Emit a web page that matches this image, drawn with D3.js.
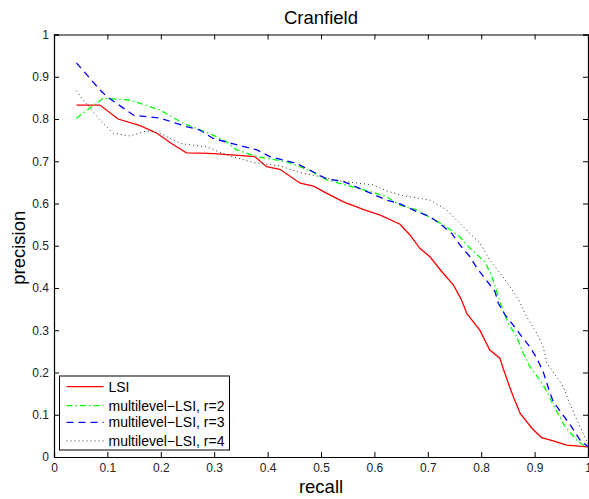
<!DOCTYPE html>
<html>
<head>
<meta charset="utf-8">
<script src="https://cdn.jsdelivr.net/npm/d3@7"></script>
<style>
  body { margin: 0; background: #fff; }
  svg { display: block; font-family: "Liberation Sans", Arial, sans-serif; }
</style>
</head>
<body>
<div class="canvas"></div>
<script>
// series data: [recall, precision]
const lsi = [
  [0.042, 0.833], [0.086, 0.833], [0.12, 0.80], [0.16, 0.785], [0.192, 0.767],
  [0.22, 0.742], [0.248, 0.720], [0.273, 0.719], [0.30, 0.718], [0.376, 0.711],
  [0.398, 0.687], [0.423, 0.681], [0.461, 0.648], [0.486, 0.641], [0.511, 0.624],
  [0.542, 0.604], [0.579, 0.586], [0.598, 0.578], [0.61, 0.573], [0.648, 0.551],
  [0.667, 0.525], [0.685, 0.494], [0.704, 0.474], [0.726, 0.439], [0.748, 0.407],
  [0.763, 0.372], [0.773, 0.340], [0.798, 0.299], [0.816, 0.253], [0.835, 0.234],
  [0.841, 0.210], [0.851, 0.174], [0.860, 0.143], [0.873, 0.103], [0.895, 0.068],
  [0.913, 0.046], [0.935, 0.038], [0.960, 0.028], [1.0, 0.024]
];
const lsiR2 = [
  [0.042, 0.802], [0.092, 0.849], [0.142, 0.845], [0.199, 0.821], [0.242, 0.79],
  [0.298, 0.762], [0.323, 0.746], [0.342, 0.727], [0.38, 0.711], [0.436, 0.699],
  [0.479, 0.678], [0.511, 0.656], [0.554, 0.641], [0.598, 0.626], [0.623, 0.616],
  [0.648, 0.596], [0.679, 0.585], [0.735, 0.545], [0.760, 0.521], [0.782, 0.49],
  [0.807, 0.462], [0.82, 0.427], [0.838, 0.356], [0.851, 0.316], [0.866, 0.285],
  [0.879, 0.245], [0.891, 0.214], [0.91, 0.182], [0.923, 0.155], [0.935, 0.123],
  [0.957, 0.072], [0.979, 0.04], [0.991, 0.028], [1.0, 0.024]
];
const lsiR3 = [
  [0.042, 0.933], [0.086, 0.869], [0.099, 0.853], [0.149, 0.809], [0.199, 0.802],
  [0.248, 0.782], [0.273, 0.774], [0.298, 0.754], [0.348, 0.737], [0.38, 0.727],
  [0.404, 0.711], [0.454, 0.695], [0.479, 0.679], [0.511, 0.658], [0.542, 0.652],
  [0.586, 0.628], [0.623, 0.608], [0.648, 0.599], [0.679, 0.581], [0.704, 0.569],
  [0.726, 0.549], [0.745, 0.529], [0.760, 0.502], [0.779, 0.474], [0.792, 0.447],
  [0.807, 0.423], [0.826, 0.391], [0.832, 0.364], [0.845, 0.336], [0.860, 0.312],
  [0.876, 0.285], [0.891, 0.261], [0.904, 0.234], [0.916, 0.202], [0.929, 0.151],
  [0.935, 0.131], [0.951, 0.103], [0.969, 0.072], [0.985, 0.04], [1.0, 0.024]
];
const lsiR4 = [
  [0.042, 0.867], [0.052, 0.849], [0.086, 0.798], [0.111, 0.766], [0.142, 0.760],
  [0.174, 0.772], [0.199, 0.766], [0.236, 0.742], [0.286, 0.734], [0.323, 0.715],
  [0.373, 0.697], [0.423, 0.689], [0.461, 0.673], [0.492, 0.665], [0.542, 0.652],
  [0.598, 0.644], [0.623, 0.630], [0.648, 0.62], [0.704, 0.608], [0.735, 0.585],
  [0.760, 0.553], [0.779, 0.529], [0.798, 0.506], [0.816, 0.466], [0.838, 0.431],
  [0.854, 0.403], [0.87, 0.372], [0.885, 0.332], [0.904, 0.293], [0.916, 0.261],
  [0.923, 0.222], [0.941, 0.190], [0.954, 0.166], [0.963, 0.135], [0.979, 0.088],
  [0.988, 0.064], [1.0, 0.03]
];

const seriesNames = ['LSI', 'multilevel\u2212LSI, r=2', 'multilevel\u2212LSI, r=3', 'multilevel\u2212LSI, r=4'];
const xTicks = [0, 0.1, 0.2, 0.3, 0.4, 0.5, 0.6, 0.7, 0.8, 0.9, 1];
const yTicks = [0, 0.1, 0.2, 0.3, 0.4, 0.5, 0.6, 0.7, 0.8, 0.9, 1];

const styles = [
  { color: '#ff0000', dash: null, width: 1.3 },
  { color: '#00ff00', dash: '6,3,1.5,3', width: 1.3 },
  { color: '#0000ff', dash: '7,5', width: 1.3 },
  { color: '#333333', dash: '1,3', width: 1 }
];

const svg = d3.select('.canvas')
    .append('svg')
    .attr('width', 589)
    .attr('height', 499);

const margin = { top: 34.5, right: 1, bottom: 42, left: 54 };
const graphWidth = 589 - margin.left - margin.right;
const graphHeight = 499 - margin.top - margin.bottom;

const graph = svg.append('g')
    .attr('transform', `translate(${margin.left}, ${margin.top})`);

const x = d3.scaleLinear().domain([0, 1]).range([0, graphWidth]);
const y = d3.scaleLinear().domain([0, 1]).range([graphHeight, 0]);

const fmt = d => d === 0 ? '0' : d === 1 ? '1' : d3.format('.1f')(d);

// axes with inward ticks
const xAxis = d3.axisBottom(x).tickValues(xTicks).tickSize(-5).tickPadding(6).tickFormat(fmt);
const yAxis = d3.axisLeft(y).tickValues(yTicks).tickSize(-5).tickPadding(5).tickFormat(fmt);
const xTop = d3.axisTop(x).tickValues(xTicks).tickSize(-5).tickFormat('');
const yRight = d3.axisRight(y).tickValues(yTicks).tickSize(-5).tickFormat('');

const xAxisGroup = graph.append('g').attr('transform', `translate(0, ${graphHeight})`).call(xAxis);
const yAxisGroup = graph.append('g').call(yAxis);
graph.append('g').call(xTop);
graph.append('g').attr('transform', `translate(${graphWidth}, 0)`).call(yRight);

graph.selectAll('.domain').attr('stroke', '#000').attr('stroke-width', 1.2);
graph.selectAll('.tick line').attr('stroke', '#000');
xAxisGroup.selectAll('text').attr('font-size', 12).attr('fill', '#222')
    .attr('font-family', '"Liberation Sans", Arial, sans-serif');
yAxisGroup.selectAll('text').attr('font-size', 12).attr('fill', '#222')
    .attr('font-family', '"Liberation Sans", Arial, sans-serif');

// lines
const line = d3.line().x(d => x(d[0])).y(d => y(d[1]));
[lsi, lsiR2, lsiR3, lsiR4].forEach((data, i) => {
    graph.append('path')
        .datum(data)
        .attr('fill', 'none')
        .attr('stroke', styles[i].color)
        .attr('stroke-width', styles[i].width)
        .attr('stroke-dasharray', styles[i].dash)
        .attr('d', line);
});

// title and labels
svg.append('text')
    .attr('x', margin.left + graphWidth / 2)
    .attr('y', 24)
    .attr('text-anchor', 'middle')
    .attr('font-size', 18.5)
    .text('Cranfield');

svg.append('text')
    .attr('x', margin.left + graphWidth / 2)
    .attr('y', 493)
    .attr('text-anchor', 'middle')
    .attr('font-size', 18.5)
    .text('recall');

svg.append('text')
    .attr('transform', `translate(25, ${margin.top + graphHeight / 2 + 2}) rotate(-90)`)
    .attr('text-anchor', 'middle')
    .attr('font-size', 18.5)
    .text('precision');

// legend
const legend = svg.append('g').attr('transform', 'translate(59.5, 376)');
legend.append('rect')
    .attr('width', 170)
    .attr('height', 74)
    .attr('fill', '#fff')
    .attr('stroke', '#000')
    .attr('stroke-width', 1);

const rowY = [10.7, 29.7, 46.3, 65];
seriesNames.forEach((name, i) => {
    legend.append('line')
        .attr('x1', 7).attr('x2', 44)
        .attr('y1', rowY[i]).attr('y2', rowY[i])
        .attr('stroke', styles[i].color)
        .attr('stroke-width', styles[i].width)
        .attr('stroke-dasharray', styles[i].dash);
    legend.append('text')
        .attr('x', 49)
        .attr('y', rowY[i])
        .attr('dy', '0.35em')
        .attr('font-size', 14)
        .text(name);
});
</script>
</body>
</html>
